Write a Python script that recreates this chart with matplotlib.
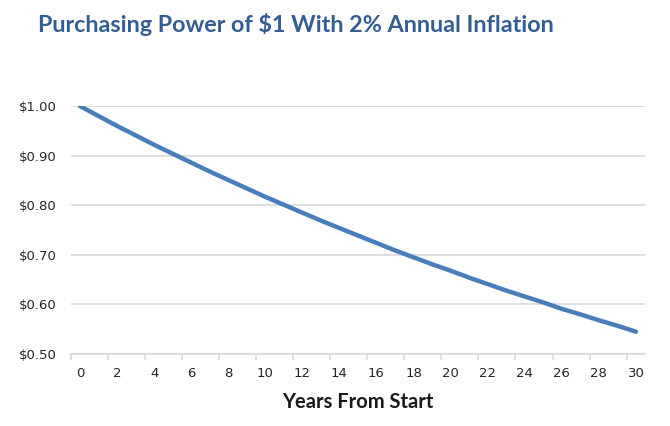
import numpy as np
import matplotlib.pyplot as plt

# values
years = list(range(31))
value = [1.000, 0.980, 0.960, 0.941, 0.922, 0.904, 0.886, 0.868, 0.851, 0.834,
         0.817, 0.801, 0.785, 0.769, 0.754, 0.739, 0.724, 0.709, 0.695, 0.681,
         0.668, 0.654, 0.641, 0.628, 0.616, 0.604, 0.591, 0.580, 0.568, 0.557,
         0.545]
yticks = [0.50, 0.60, 0.70, 0.80, 0.90, 1.00]

fig = plt.figure(figsize=(6.7, 4.26), dpi=100)
ax = fig.add_axes([0.1055, 0.169, 0.8575, 0.582])

ax.plot(years, value, color='#4a7ebb', linewidth=3.2, solid_capstyle='round', zorder=3)

ax.set_xlim(-0.5, 30.5)
ax.set_ylim(0.5, 1.0)
ax.set_yticks(yticks)
ax.set_yticklabels(['$%.2f' % v for v in yticks])
ax.set_xticks(years[::2])
ax.set_xticks(np.arange(-0.5, 31, 2), minor=True)
ax.tick_params(axis='x', which='major', length=0, pad=9, labelsize=9.5, labelcolor='#262626')
ax.tick_params(axis='x', which='minor', length=4, width=1.2, color='#d9d9d9')
ax.tick_params(axis='y', length=0, pad=10, labelsize=9.5, labelcolor='#262626')

ax.grid(axis='y', color='#d9d9d9', linewidth=1.2)
ax.set_axisbelow(True)
for s in ['top', 'right', 'left']:
    ax.spines[s].set_visible(False)
ax.spines['bottom'].set_color('#d9d9d9')
ax.spines['bottom'].set_linewidth(1.2)

ax.set_xlabel('Years From Start', fontsize=14.5, fontweight='bold', color='#1a1a1a',
              family='Lato', labelpad=9)
fig.text(0.057, 0.925, 'Purchasing Power of $1 With 2% Annual Inflation', fontsize=16.8,
         fontweight='bold', color='#335e93', family='Lato', ha='left', va='baseline')

fig.savefig('out.png', dpi=100)
